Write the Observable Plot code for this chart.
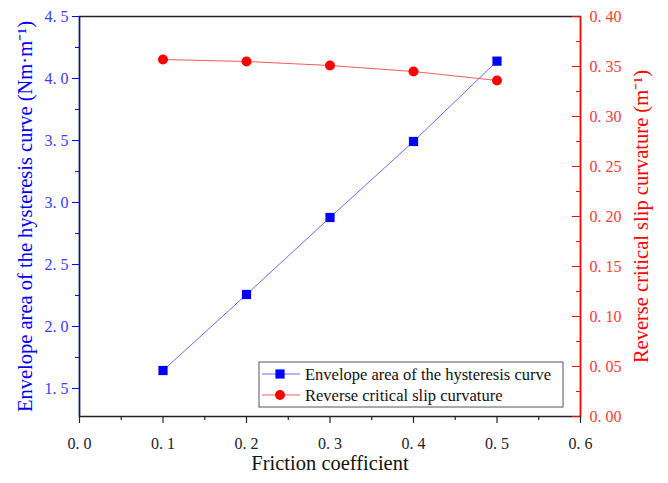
<!DOCTYPE html>
<html><head><meta charset="utf-8">
<script src="https://cdn.jsdelivr.net/npm/d3@7"></script>
<script src="https://cdn.jsdelivr.net/npm/@observablehq/plot@0.6"></script>
<style>body{margin:0;background:#fff}</style>
</head><body><div id="chart"></div>
<script>
const friction = [0.1, 0.2, 0.3, 0.4, 0.5];
const envelopeArea = [1.645, 2.258, 2.879, 3.492, 4.140];
const slipCurvature = [0.357, 0.355, 0.351, 0.345, 0.336];
const xTicks = [0, 0.1, 0.2, 0.3, 0.4, 0.5, 0.6];
const xMinorTicks = [0.05, 0.15, 0.25, 0.35, 0.45, 0.55];
const leftTicks = [1.5, 2.0, 2.5, 3.0, 3.5, 4.0, 4.5];
const leftMinorTicks = [1.75, 2.25, 2.75, 3.25, 3.75, 4.25];
const rightTicks = [0, 0.05, 0.10, 0.15, 0.20, 0.25, 0.30, 0.35, 0.40];
const rightMinorTicks = [0.025, 0.075, 0.125, 0.175, 0.225, 0.275, 0.325, 0.375];
const seriesNames = ["Envelope area of the hysteresis curve", "Reverse critical slip curvature"];
const xLabel = "Friction coefficient";
const leftLabel = "Envelope area of the hysteresis curve (Nm·m⁻¹)";
const rightLabel = "Reverse critical slip curvature (m⁻¹)";

const xDomain = [0, 0.6];
const yL = [1.274, 4.5];
const yR = [0, 0.4];
const toLeft = v => yL[0] + (v - yR[0]) / (yR[1] - yR[0]) * (yL[1] - yL[0]);
const fromLeft = y => yR[0] + (y - yL[0]) / (yL[1] - yL[0]) * (yR[1] - yR[0]);

const W = 668, H = 483, ml = 79, mr = 88, mt = 16, mb = 67;
const innerW = W - ml - mr;
const BLUE = "#0000ff", RED = "#ff0000";
const font = "'Liberation Serif', 'Times New Roman', serif";

const data = friction.map((f, i) => ({f, a: envelopeArea[i], c: toLeft(slipCurvature[i])}));
const f1 = d => d3.format(".1f")(d).replace(".", ". ");
const f2 = d => d3.format(".2f")(fromLeft(d)).replace(".", ". ");

const chart = Plot.plot({
  width: W, height: H,
  marginLeft: ml, marginRight: mr, marginTop: mt, marginBottom: mb,
  style: {fontFamily: font, background: "#fff"},
  x: {domain: xDomain},
  y: {domain: yL},
  marks: [
    Plot.frame({stroke: "#222", strokeWidth: 1.5}),
    // x axis
    Plot.axisX({ticks: xTicks, tickSize: 7, tickPadding: 14, tickFormat: f1, fontSize: 16, fill: "#222", stroke: "#222", strokeWidth: 1.2, label: null}),
    Plot.axisX({ticks: xMinorTicks, tickSize: 4, tickFormat: () => "", stroke: "#222", strokeWidth: 1.2, label: null}),
    // left axis
    Plot.axisY({anchor: "left", ticks: leftTicks, tickSize: 7, tickPadding: 4, tickFormat: f1, fontSize: 16, fill: "#3a3aff", stroke: BLUE, label: null}),
    Plot.axisY({anchor: "left", ticks: leftMinorTicks, tickSize: 4, tickFormat: () => "", stroke: BLUE, label: null}),
    // right axis (ticks point inward)
    Plot.axisY({anchor: "left", ticks: rightTicks.map(toLeft), tickSize: 8, tickFormat: () => "", stroke: RED, dx: innerW, label: null}),
    Plot.axisY({anchor: "left", ticks: rightMinorTicks.map(toLeft), tickSize: 4, tickFormat: () => "", stroke: RED, dx: innerW, label: null}),
    Plot.axisY({anchor: "right", ticks: rightTicks.map(toLeft), tickSize: 0, tickPadding: 9, tickFormat: f2, fontSize: 16, fill: "#ff3a3a", label: null}),
    Plot.ruleX([xDomain[0]], {stroke: BLUE, strokeWidth: 1.3}),
    Plot.ruleX([xDomain[1]], {stroke: RED, strokeWidth: 1.3}),
    // titles
    Plot.text([xLabel], {frameAnchor: "bottom", textAnchor: "middle", dy: 53, fontSize: 20.5, fill: "#111"}),
    Plot.text([leftLabel], {frameAnchor: "left", textAnchor: "middle", rotate: -90, dx: -54, fontSize: 20.5, fill: BLUE}),
    Plot.text([rightLabel], {frameAnchor: "right", textAnchor: "middle", rotate: -90, dx: 61, fontSize: 20.5, fill: RED}),
    // series
    Plot.line(data, {x: "f", y: "a", stroke: "#6a6aff", strokeWidth: 1}),
    Plot.line(data, {x: "f", y: "c", stroke: "#ff5a5a", strokeWidth: 1}),
    Plot.dot(data, {x: "f", y: "a", symbol: "square", r: 5.2, fill: BLUE, stroke: "none"}),
    Plot.dot(data, {x: "f", y: "c", symbol: "circle", r: 5, fill: RED, stroke: "none"})
  ]
});

// legend
const svg = d3.select(chart);
const lg = svg.append("g").attr("font-family", font).attr("text-anchor", "start");
const lx = 259, ly = 362, lw = 304, lh = 45;
lg.append("rect").attr("x", lx).attr("y", ly).attr("width", lw).attr("height", lh)
  .attr("fill", "#fff").attr("stroke", "#555").attr("stroke-width", 1);
const rows = [
  {name: seriesNames[0], color: "#6a6aff", fill: BLUE, sym: "square"},
  {name: seriesNames[1], color: "#ff5a5a", fill: RED, sym: "circle"}
];
rows.forEach((r, i) => {
  const cy = ly + 12 + i * 21;
  lg.append("line").attr("x1", lx + 3).attr("x2", lx + 41).attr("y1", cy).attr("y2", cy)
    .attr("stroke", r.color).attr("stroke-width", 1);
  if (r.sym === "square") {
    lg.append("rect").attr("x", lx + 21 - 4.6).attr("y", cy - 4.6).attr("width", 9.2).attr("height", 9.2).attr("fill", r.fill);
  } else {
    lg.append("circle").attr("cx", lx + 21).attr("cy", cy).attr("r", 5).attr("fill", r.fill);
  }
  lg.append("text").attr("x", lx + 46).attr("y", cy).attr("dy", "0.35em")
    .attr("font-size", 16.5).attr("fill", "#111").attr("text-anchor", "start").text(r.name);
});

document.getElementById("chart").append(chart);
</script>
</body></html>
